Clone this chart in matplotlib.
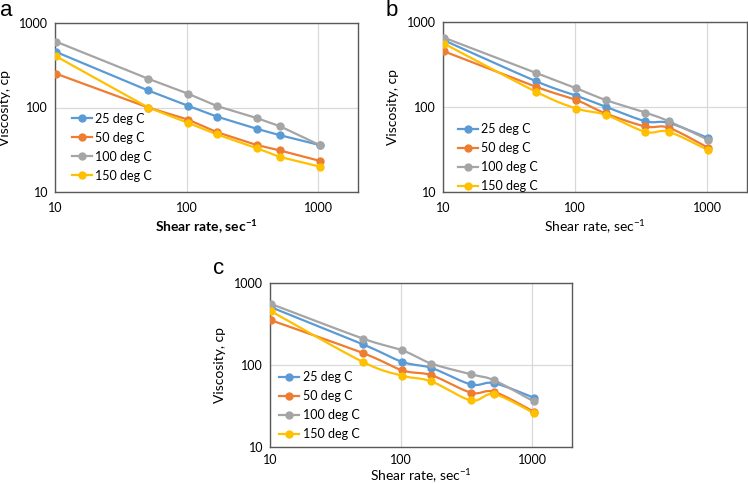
import numpy as np
import matplotlib
matplotlib.use("Agg")
import matplotlib.pyplot as plt
from matplotlib.lines import Line2D
from matplotlib.ticker import FixedLocator, FixedFormatter, NullLocator

plt.rcParams['font.family'] = ['Lato', 'DejaVu Sans']
plt.rcParams['mathtext.fontset'] = 'custom'
plt.rcParams['mathtext.rm'] = 'Lato'

shear_rate = [10.2, 51, 102, 170, 340, 511, 1021]
series_labels = ["25 deg C", "50 deg C", "100 deg C", "150 deg C"]
colors = ["#5B9BD5", "#ED7D31", "#A5A5A5", "#FFC000"]

a_25 = [454, 159, 105, 78, 56, 47, 36]
a_50 = [251, 100, 72, 51, 36, 31, 23.4]
a_100 = [601, 219, 146, 104, 75, 60, 36]
a_150 = [403, 100, 66, 48, 33, 26, 20]

b_25 = [608, 200, 136, 101, 68, 65, 43]
b_50 = [451, 172, 121, 84, 59, 57, 33]
b_100 = [653, 251, 166, 121, 86, 68, 41]
b_150 = [556, 150, 96, 81, 51, 51, 31]

c_25 = [506, 179, 109, 92, 58, 60, 40]
c_50 = [351, 140, 86, 75, 46, 47, 27]
c_100 = [555, 210, 151, 104, 77, 65, 36]
c_150 = [452, 109, 74, 63, 37, 44, 26]

ticks = [10, 100, 1000]
tick_labels = ["10", "100", "1000"]


def smooth(x, y, n=24):
    lx = np.log10(np.asarray(x, float))
    ly = np.log10(np.asarray(y, float))
    P = np.column_stack([lx, ly])
    m = len(P)
    out = [P[0]]
    for i in range(m - 1):
        p0 = P[i - 1] if i > 0 else P[i]
        p1 = P[i]
        p2 = P[i + 1]
        p3 = P[i + 2] if i + 2 < m else P[i + 1]
        c1 = p1 + (p2 - p0) / 6.0
        c2 = p2 - (p3 - p1) / 6.0
        t = np.linspace(0, 1, n)[1:, None]
        seg = ((1 - t) ** 3) * p1 + 3 * ((1 - t) ** 2) * t * c1 + 3 * (1 - t) * t ** 2 * c2 + t ** 3 * p2
        out.extend(seg)
    out = np.array(out)
    return 10 ** out[:, 0], 10 ** out[:, 1]


W, H = 748, 484
fig = plt.figure(figsize=(W / 100, H / 100), dpi=100)


def px_axes(l, t, r, b):
    return fig.add_axes([l / W, 1 - b / H, (r - l) / W, (b - t) / H])


def setup(ax, data, smooth_lines, bold_x, leg_anchor, letter, letter_xy, xpad, lpad):
    for vals, c, lab in zip(data, colors, series_labels):
        if smooth_lines:
            sx, sy = smooth(shear_rate, vals)
            ax.plot(sx, sy, color=c, lw=1.6, zorder=3)
        else:
            ax.plot(shear_rate, vals, color=c, lw=1.6, zorder=3)
        ax.plot(shear_rate, vals, linestyle='none', marker='o', ms=5, color=c, zorder=4)
    ax.set_xscale('log')
    ax.set_yscale('log')
    ax.set_xlim(10, 2000)
    ax.set_ylim(10, 1000)
    ax.xaxis.set_major_locator(FixedLocator(ticks))
    ax.xaxis.set_major_formatter(FixedFormatter(tick_labels))
    ax.yaxis.set_major_locator(FixedLocator(ticks))
    ax.yaxis.set_major_formatter(FixedFormatter(tick_labels))
    ax.xaxis.set_minor_locator(NullLocator())
    ax.yaxis.set_minor_locator(NullLocator())
    ax.tick_params(length=0, labelsize=9, colors='#000000')
    ax.tick_params(axis='x', pad=xpad)
    ax.tick_params(axis='y', pad=5)
    ax.grid(True, which='major', color='#D9D9D9', lw=0.9, zorder=0)
    for s in ax.spines.values():
        s.set_color('#595959')
        s.set_linewidth(1.0)
    ax.set_ylabel("Viscosity, cp", fontsize=10, labelpad=6)
    ax.set_xlabel(r"Shear rate, sec$^{\mathregular{-1}}$", fontsize=10, labelpad=lpad,
                  fontweight='bold' if bold_x else 'normal')
    handles = [Line2D([], [], color=c, lw=1.6, marker='o', ms=5) for c in colors]
    ax.legend(handles, series_labels, loc='lower left', bbox_to_anchor=leg_anchor,
              frameon=False, fontsize=9, handlelength=1.6, handletextpad=0.3,
              labelspacing=0.56, borderpad=0, borderaxespad=0)
    fig.text(letter_xy[0] / W, 1 - letter_xy[1] / H, letter, fontsize=16,
             ha='left', va='center', family='Liberation Sans')


ax_a = px_axes(55, 23, 358, 192)
setup(ax_a, [a_25, a_50, a_100, a_150], False, True, (0.055, 0.06), 'a', (0, 10), 7, 3)

ax_b = px_axes(443, 22, 747, 192)
setup(ax_b, [b_25, b_50, b_100, b_150], True, False, (0.048, 0.0), 'b', (386, 10), 7, 3)

ax_c = px_axes(270, 283, 572, 447)
setup(ax_c, [c_25, c_50, c_100, c_150], True, False, (0.03, 0.04), 'c', (213, 269), 5, 0.5)

fig.savefig("out.png", dpi=100)
